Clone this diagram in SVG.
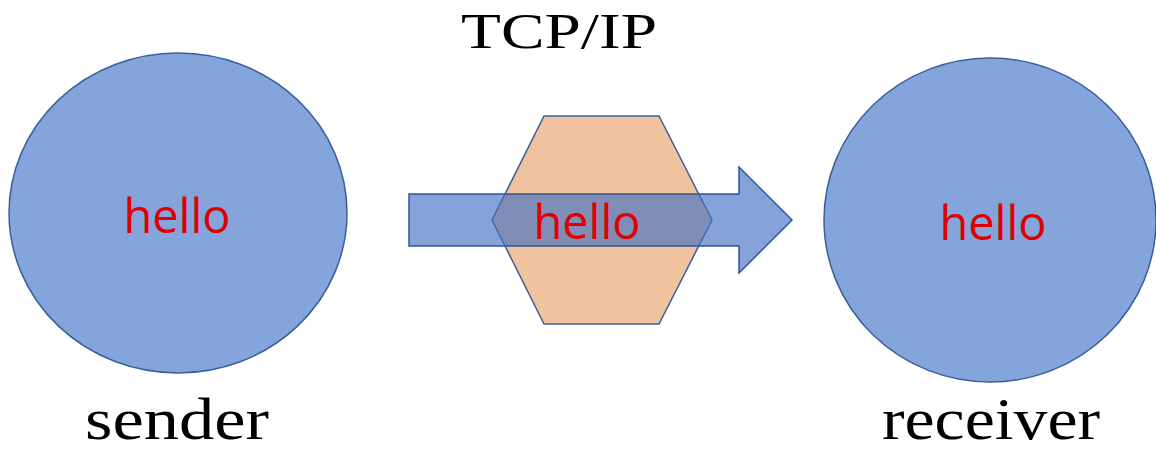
<svg xmlns="http://www.w3.org/2000/svg" width="1156" height="452" viewBox="0 0 1156 452">
<style>
.node{fill:#84a5db;stroke:#3a5f9e;stroke-width:1.5}
.hex{fill:#f0c29e;stroke:#3a5f9e;stroke-width:1.5}
.arrow{fill:#4472c4;fill-opacity:0.65;stroke:#2f5597;stroke-width:1.5}
.msg{font-family:"Open Sans","Liberation Sans",sans-serif;font-size:47px;fill:#e00000;text-anchor:middle}
.lbl{font-family:"Liberation Serif","DejaVu Serif",serif;fill:#000;text-anchor:middle}
</style>
<rect width="1156" height="452" fill="#ffffff"/>
<g id="sender">
<ellipse class="node" cx="178" cy="213" rx="169" ry="160"/>
<text class="msg" x="177" y="233">hello</text>
<text class="lbl" x="177" y="439" font-size="60" textLength="184" lengthAdjust="spacingAndGlyphs">sender</text>
</g>
<g id="tcpip">
<polygon class="hex" points="544,116 659,116 712,220 659,324 544,324 492,220"/>
<text class="lbl" x="559" y="48" font-size="50" textLength="196" lengthAdjust="spacingAndGlyphs">TCP/IP</text>
</g>
<g id="connectors">
<polygon class="arrow" points="409,194 739,194 739,167 792,220 739,273 739,246 409,246"/>
</g>
<g id="tcpip-label">
<text class="msg" x="587" y="239">hello</text>
</g>
<g id="receiver">
<ellipse class="node" cx="990" cy="220" rx="166" ry="162"/>
<text class="msg" x="993" y="240">hello</text>
<text class="lbl" x="991" y="439" font-size="60" textLength="218" lengthAdjust="spacingAndGlyphs">receiver</text>
</g>
</svg>
